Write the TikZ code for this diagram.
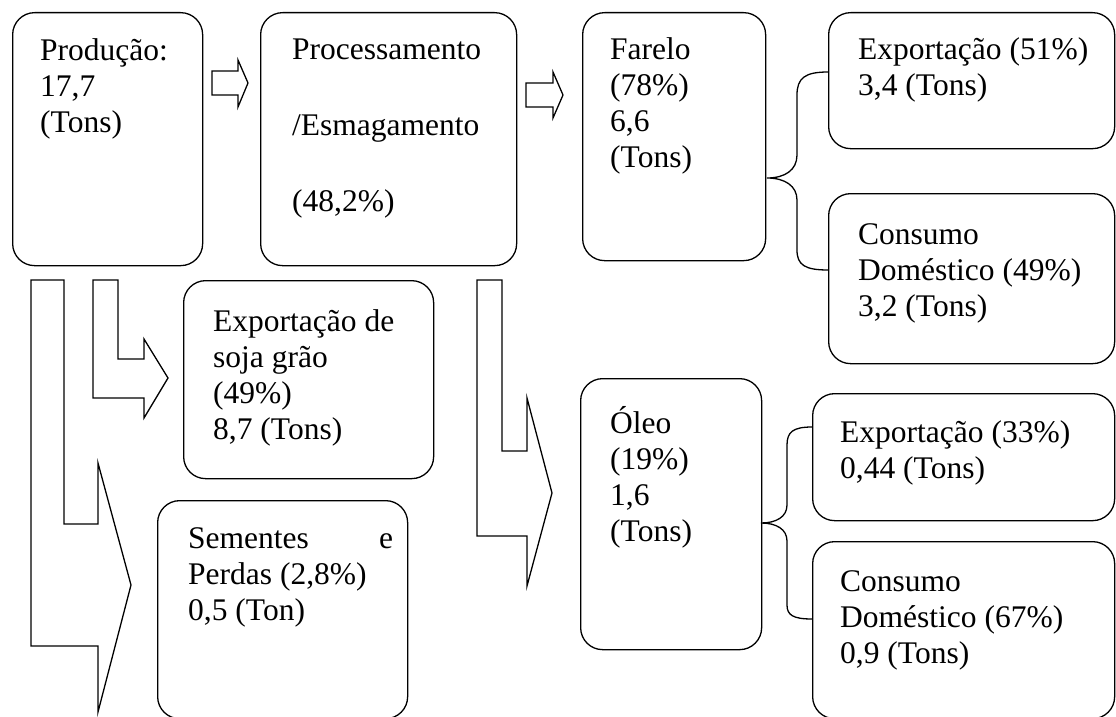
\documentclass[tikz,border=0pt]{standalone}
\usepackage{fontspec}
\setmainfont{Liberation Serif}
\begin{document}
\begin{tikzpicture}[x=1pt,y=-1pt,
  box/.style={draw, line width=1.3pt, rounded corners=22pt, inner sep=0pt, anchor=north west},
  txt/.style={anchor=north west, inner sep=0pt, align=left, font=\fontsize{31.5}{36}\selectfont},
  blk/.style={draw, line width=1.3pt, line join=miter, fill=white},
  brc/.style={draw, line width=1.3pt}]
\fill[white] (0,0) rectangle (1116,717);
\useasboundingbox (0,0) rectangle (1116,717);
% boxes
\node[box, minimum width=190pt, minimum height=253pt] (prod) at (12,12) {};
\node[box, minimum width=256pt, minimum height=253pt] (proc) at (260,12) {};
\node[box, minimum width=183pt, minimum height=248pt] (farelo) at (582,12) {};
\node[box, minimum width=286pt, minimum height=136pt] (exp1) at (828,12) {};
\node[box, minimum width=286pt, minimum height=170pt] (cons1) at (828,193) {};
\node[box, minimum width=250pt, minimum height=198pt] (soja) at (183,280) {};
\node[box, minimum width=250pt, minimum height=218pt] (sem) at (157,500) {};
\node[box, minimum width=181pt, minimum height=271pt] (oleo) at (580,378) {};
\node[box, minimum width=302pt, minimum height=127pt] (exp2) at (812,393) {};
\node[box, minimum width=302pt, minimum height=177pt] (cons2) at (812,541) {};
% texts
\node[txt] (prodT) at (40,34.8) {\strut Produção:\\17,7\\(Tons)};
\node[txt] (procT) at (292,33.8) {\strut Processamento\\[40pt]/Esmagamento\\[40pt](48,2\%)};
\node[txt] (fareloT) at (610,33.8) {\strut Farelo\\(78\%)\\6,6\\(Tons)};
\node[txt] (exp1T) at (858,33.8) {\strut Exportação (51\%)\\3,4 (Tons)};
\node[txt] (cons1T) at (858,218.8) {\strut Consumo\\Doméstico (49\%)\\3,2 (Tons)};
\node[txt] (sojaT) at (213,305.8) {\strut Exportação de\\soja grão\\(49\%)\\8,7 (Tons)};
\node[txt] (semT) at (188,522.8) {\strut\makebox[205pt][l]{Sementes\hfill e}\\Perdas (2,8\%)\\0,5 (Ton)};
\node[txt] (oleoT) at (610,405.8) {\strut Óleo\\(19\%)\\1,6\\(Tons)};
\node[txt] (exp2T) at (840,416.8) {\strut Exportação (33\%)\\0,44 (Tons)};
\node[txt] (cons2T) at (840,565.8) {\strut Consumo\\Doméstico (67\%)\\0,9 (Tons)};
% block arrows
\draw[blk] (212,71) -- (238,71) -- (238,60) -- (248,83) -- (238,107) -- (238,95) -- (212,95) -- cycle;
\draw[blk] (526,83) -- (553,83) -- (553,72) -- (563,95) -- (553,118) -- (553,107) -- (526,107) -- cycle;
\draw[blk] (31,280) -- (64,280) -- (64,524) -- (98,524) -- (98,463) -- (131,585) -- (98,712) -- (98,646) -- (31,646) -- cycle;
\draw[blk] (93,280) -- (118,280) -- (118,359) -- (144,359) -- (144,339) -- (168,378) -- (144,418) -- (144,398) -- (93,398) -- cycle;
\draw[blk] (477,280) -- (502,280) -- (502,451) -- (527,451) -- (527,398) -- (552,493) -- (527,586) -- (527,536) -- (477,536) -- cycle;
% braces
\coordinate (b1m) at (767,178);
\coordinate (b1t) at (828,72);
\coordinate (b1b) at (828,270);
\draw[brc] (b1t) .. controls (805,72) and (797,78) .. (797,95) -- (797,155) .. controls (797,170) and (785,178) .. (b1m) .. controls (785,178) and (797,186) .. (797,200) -- (797,250) .. controls (797,265) and (805,270) .. (b1b);
\coordinate (b2m) at (761,523);
\coordinate (b2t) at (812,427);
\coordinate (b2b) at (812,619);
\draw[brc] (b2t) .. controls (793,427) and (787,432) .. (787,445) -- (787,505) .. controls (787,517) and (776,523) .. (b2m) .. controls (776,523) and (787,529) .. (787,541) -- (787,605) .. controls (787,615) and (793,619) .. (b2b);
\end{tikzpicture}
\end{document}
